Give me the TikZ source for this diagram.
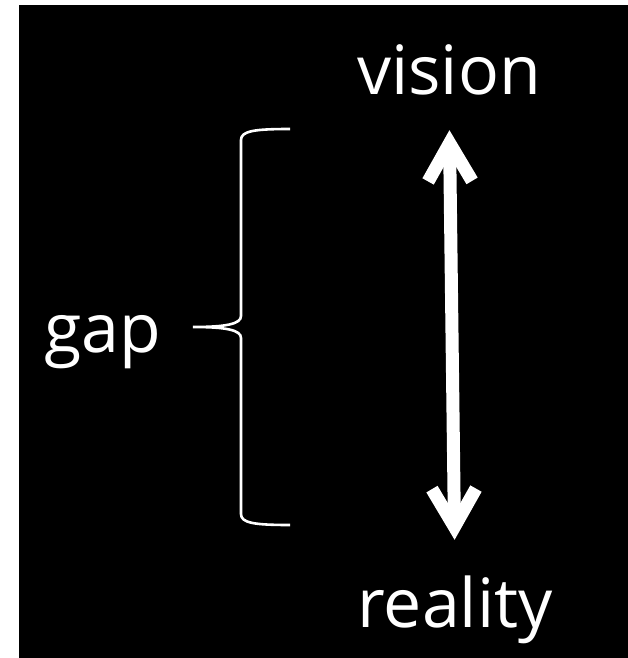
\documentclass[tikz,border=0pt]{standalone}
\usepackage{fontspec}
\setmainfont{Open Sans}
\usetikzlibrary{arrows.meta}

\begin{document}
\begin{tikzpicture}[x=1pt, y=-1pt,
    word/.style={text=white, font=\fontsize{68}{80}\selectfont,
        inner sep=0pt, anchor=base, text height=55pt, text depth=0pt},
    bothway/.style={draw=white, line width=13pt,
        {Straight Barb[length=38pt, width=44pt, line join=miter]}-{Straight Barb[length=38pt, width=44pt, line join=miter]}}]
    \useasboundingbox (0,0) rectangle (628,658);
    \fill[black] (19,5) rectangle (628,658);

    \node[word] (vision) at (449,95) {vision};
    \node[word] (reality) at (455,627) {reality};
    \node[word] (gap) at (103,352) {gap};

    \draw[bothway, shorten <=35pt, shorten >=32pt] (vision.south) -- (reality.north);

    % the brace
    \draw[white, line width=2.6pt]
        (290,129) .. controls (254,129) and (241,131) .. (241,140)
        -- (241,316) .. controls (241,324) and (226,327) .. (193,327)
        .. controls (226,327) and (241,330) .. (241,338)
        -- (241,514) .. controls (241,523) and (254,525) .. (290,525);
\end{tikzpicture}
\end{document}
